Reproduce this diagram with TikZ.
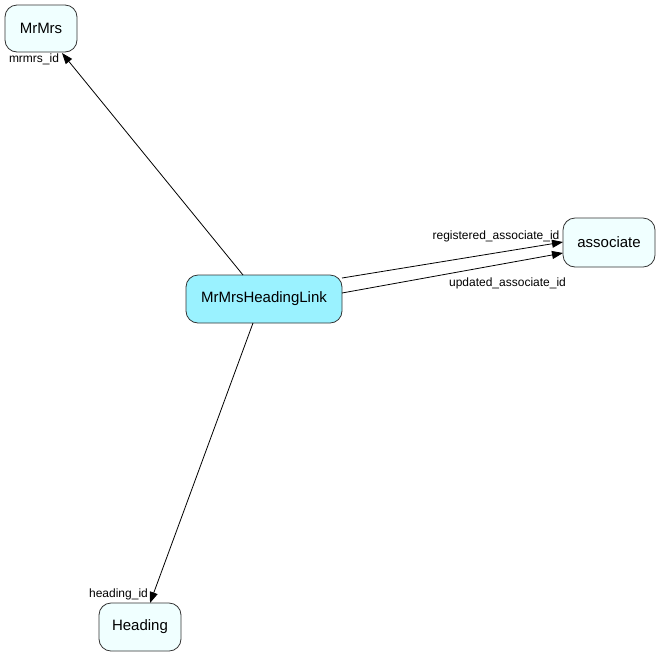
\documentclass[tikz,border=0pt]{standalone}
\usepackage{fontspec}
\setmainfont{Liberation Sans}
\usetikzlibrary{arrows.meta}
\definecolor{tablefill}{HTML}{F0FFFF}
\definecolor{mainfill}{HTML}{9AF2FF}
\definecolor{edgegray}{HTML}{333333}
\begin{document}
\begin{tikzpicture}[x=1pt,y=-1pt,
  tbl/.style={draw=edgegray,line width=0.8pt,rounded corners=12pt,fill=tablefill,
    inner sep=0pt,font=\fontsize{15}{17}\selectfont},
  rel/.style={draw=black,line width=0.8pt,-{Triangle[length=11pt,width=8pt]}},
  lbl/.style={font=\fontsize{12}{14}\selectfont,inner sep=0pt}]
\useasboundingbox (0,0) rectangle (660,657);
\node[tbl,minimum width=72pt,minimum height=47pt] (mrmrs) at (41,28.5) {MrMrs};
\node[tbl,minimum width=92pt,minimum height=49pt] (assoc) at (609,242.5) {associate};
\node[tbl,minimum width=82pt,minimum height=48pt] (heading) at (140,627) {Heading};
\node[tbl,fill=mainfill,minimum width=156pt,minimum height=48pt] (link) at (264,299) {MrMrsHeadingLink};
\coordinate (a1) at (243,275);
\coordinate (a2) at (62,53);
\coordinate (b1) at (342,278);
\coordinate (b2) at (563,242);
\coordinate (c1) at (342,293);
\coordinate (c2) at (563,253);
\coordinate (d1) at (253,323);
\coordinate (d2) at (150,603);
\draw[rel] (a1) -- (a2);
\draw[rel] (b1) -- (b2);
\draw[rel] (c1) -- (c2);
\draw[rel] (d1) -- (d2);
\node[lbl] (l1) at (34,59) {mrmrs\_id};
\node[lbl] (l2) at (496,236) {registered\_associate\_id};
\node[lbl] (l3) at (507.5,283) {updated\_associate\_id};
\node[lbl] (l4) at (118.5,594) {heading\_id};
\end{tikzpicture}
\end{document}
